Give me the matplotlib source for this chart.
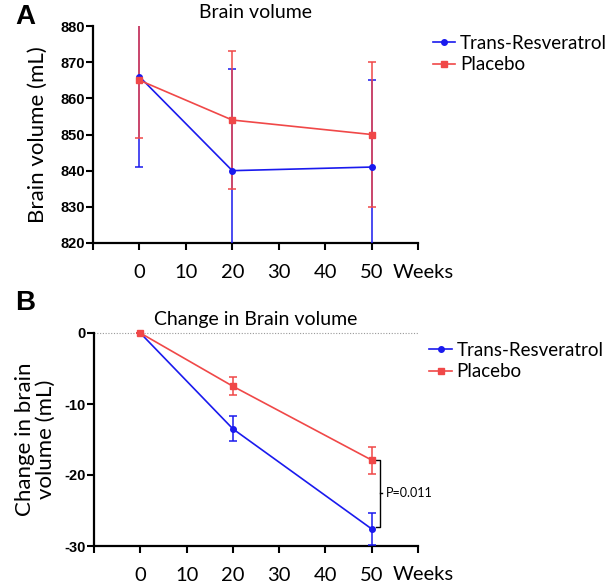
import matplotlib
matplotlib.use("Agg")
import matplotlib.pyplot as plt
from matplotlib.lines import Line2D

weeks = [0, 20, 50]

# panel A: brain volume (mL), mean and error
vol_resv = [866, 840, 841]
vol_resv_err = [25, 28, 24]
vol_plac = [865, 854, 850]
vol_plac_err = [16, 19, 20]

# panel B: change in brain volume (mL)
chg_resv = [0, -13.5, -27.6]
chg_resv_err = [0, 1.75, 2.3]
chg_plac = [0, -7.5, -17.9]
chg_plac_err = [0, 1.3, 1.9]

xticks = [-10, 0, 10, 20, 30, 40, 50, 60]
xticklabels = ["", "0", "10", "20", "30", "40", "50", ""]

BLUE = "#1a1aee"
RED = "#f04848"
FONT = "Lato"

fig = plt.figure(figsize=(6.13, 5.86), dpi=100)
W, H = 613, 586


def make_axes(left, top, right, bottom):
    return fig.add_axes([left / W, 1 - bottom / H, (right - left) / W, (bottom - top) / H])


def style_axes(ax, ylim, yticks):
    ax.set_xlim(-10, 60)
    ax.set_ylim(*ylim)
    ax.set_xticks(xticks)
    ax.set_xticklabels(xticklabels, fontfamily=FONT, fontsize=14.5)
    ax.set_yticks(yticks)
    ax.set_yticklabels([str(v) for v in yticks], fontfamily="Liberation Sans",
                       fontweight="bold", fontsize=10.5)
    ax.tick_params(axis="x", length=5, width=1.5, pad=10)
    ax.tick_params(axis="y", length=5, width=1.5, pad=1)
    for s in ["top", "right"]:
        ax.spines[s].set_visible(False)
    for s in ["left", "bottom"]:
        ax.spines[s].set_linewidth(1.6)
    ax.text(0.923, -0.135, "Weeks", transform=ax.transAxes, fontfamily=FONT,
            fontsize=14.5, ha="left", va="center")


def draw_series(ax, y, err, color, marker):
    ax.errorbar(weeks, y, yerr=err, color=color, marker=marker, markersize=4,
                linewidth=1.2, elinewidth=1.1, capsize=3, capthick=1.1, zorder=3)


def add_legend(ax, anchor):
    handles = [Line2D([], [], color=BLUE, marker="o", markersize=4, linewidth=1.2),
               Line2D([], [], color=RED, marker="s", markersize=4, linewidth=1.2)]
    ax.legend(handles, ["Trans-Resveratrol", "Placebo"], loc="upper left",
              bbox_to_anchor=anchor, frameon=False,
              prop={"family": FONT, "size": 13.5}, handlelength=1.2,
              handletextpad=0.25, labelspacing=0.25, borderpad=0, borderaxespad=0)


# ---- panel A ----
axA = make_axes(93, 26, 418, 243)
style_axes(axA, (820, 880), [820, 830, 840, 850, 860, 870, 880])
draw_series(axA, vol_resv, vol_resv_err, BLUE, "o")
draw_series(axA, vol_plac, vol_plac_err, RED, "s")
axA.set_ylabel("Brain volume (mL)", fontfamily=FONT, fontsize=16, labelpad=9)
axA.set_title("Brain volume", fontfamily=FONT, fontsize=14, pad=6)
add_legend(axA, (1.045, 0.96))
fig.text(15 / W, 1 - 17 / H, "A", fontfamily="Liberation Sans", fontweight="bold",
         fontsize=20, ha="left", va="center")

# ---- panel B ----
axB = make_axes(94, 333, 418, 546)
style_axes(axB, (-30, 0), [0, -10, -20, -30])
axB.axhline(0, color="#999999", linestyle=(0, (1, 1.5)), linewidth=0.8, zorder=1)
draw_series(axB, chg_resv, chg_resv_err, BLUE, "o")
draw_series(axB, chg_plac, chg_plac_err, RED, "s")
for line in axB.lines:
    line.set_clip_on(False)
axB.set_ylabel("Change in brain\nvolume (mL)", fontfamily=FONT, fontsize=16,
               labelpad=6, linespacing=1.05)
axB.set_title("Change in Brain volume", fontfamily=FONT, fontsize=14, pad=6)
add_legend(axB, (1.035, 0.96))
fig.text(15 / W, 1 - 303 / H, "B", fontfamily="Liberation Sans", fontweight="bold",
         fontsize=20, ha="left", va="center")

# significance bracket
bx0, bx1, bx2 = 50.9, 51.7, 52.3
ytop, ybot = chg_plac[2], chg_resv[2] + 0.3
ymid = (ytop + ybot) / 2
axB.plot([bx0, bx1, bx1, bx0], [ytop, ytop, ybot, ybot], color="black",
         linewidth=1, clip_on=False)
axB.plot([bx1, bx2], [ymid, ymid], color="black", linewidth=1, clip_on=False)
axB.text(53.0, ymid, "P=0.011", fontfamily=FONT, fontsize=9, ha="left", va="center")

fig.savefig("out.png", dpi=100)
